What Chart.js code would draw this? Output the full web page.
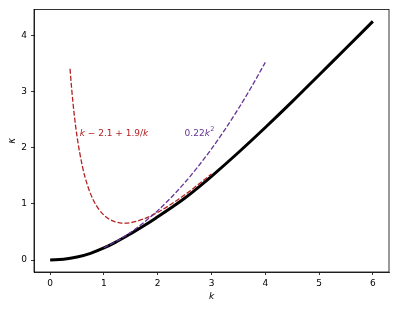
<!DOCTYPE html>
<html>
<head>
<meta charset="utf-8">
<script src="https://cdn.jsdelivr.net/npm/chart.js@4/dist/chart.umd.min.js"></script>
<style>
html,body{margin:0;padding:0;background:#fff;}
#wrap{width:396px;height:309px;}
</style>
</head>
<body>
<div id="wrap"><canvas id="c" width="396" height="309"></canvas></div>
<script>
// Full curve kappa(k)
const kFull = [0, 0.25, 0.5, 0.75, 1, 1.25, 1.5, 1.75, 2, 2.25, 2.5, 2.75, 3, 3.5, 4, 4.5, 5, 5.5, 6];
const kappaFull = [0, 0.013, 0.053, 0.12, 0.215, 0.335, 0.47, 0.615, 0.77, 0.93, 1.1, 1.29, 1.49, 1.915, 2.36, 2.82, 3.295, 3.77, 4.25];
// Large-k asymptote: k - 2.1 + 1.9/k
const kLarge = [0.37, 0.4, 0.45, 0.5, 0.6, 0.7, 0.8, 0.9, 1.0, 1.1, 1.2, 1.3, 1.4, 1.5, 1.6, 1.8, 2.0, 2.2, 2.4, 2.6, 2.8, 3.0];
const kappaLarge = [3.405, 3.05, 2.572, 2.2, 1.667, 1.314, 1.075, 0.911, 0.8, 0.727, 0.683, 0.662, 0.657, 0.667, 0.688, 0.756, 0.85, 0.964, 1.092, 1.231, 1.379, 1.533];
// Small-k asymptote: 0.22 k^2
const kSmall = [1, 1.25, 1.5, 1.75, 2, 2.25, 2.5, 2.75, 3, 3.25, 3.5, 3.75, 4];
const kappaSmall = [0.22, 0.344, 0.495, 0.674, 0.88, 1.114, 1.375, 1.664, 1.98, 2.324, 2.695, 3.094, 3.52];
// Ticks
const xTicks = [0, 1, 2, 3, 4, 5, 6];
const yTicks = [0, 1, 2, 3, 4];
// Annotation labels
const labelLarge = {x: 0.55, y: 2.25, parts: [['k', true], [' \u2212 2.1 + 1.9/', false], ['k', true]], color: '#b22222'};
const labelSmall = {x: 2.5, y: 2.25, parts: [['0.22', false], ['k', true]], sup: '2', color: '#663399'};

const pts = (xs, ys) => xs.map((x, i) => ({x: x, y: ys[i]}));
const FONT = 'DejaVu Sans';

const frame = {
  id: 'frame',
  afterDatasetsDraw(chart) {
    const {ctx, chartArea: a, scales} = chart;
    ctx.save();
    ctx.strokeStyle = '#000';
    ctx.lineWidth = 0.8;
    ctx.strokeRect(a.left, a.top, a.right - a.left, a.bottom - a.top);
    const drawLabel = (lab) => {
      let px = scales.x.getPixelForValue(lab.x);
      const py = scales.y.getPixelForValue(lab.y);
      ctx.fillStyle = lab.color;
      ctx.textBaseline = 'middle';
      ctx.textAlign = 'left';
      for (const [t, it] of lab.parts) {
        ctx.font = (it ? 'italic ' : '') + '9px "' + FONT + '"';
        ctx.fillText(t, px, py);
        px += ctx.measureText(t).width;
      }
      if (lab.sup) {
        ctx.font = '6.5px "' + FONT + '"';
        ctx.fillText(lab.sup, px + 0.5, py - 4);
      }
    };
    drawLabel(labelLarge);
    drawLabel(labelSmall);
    ctx.restore();
  }
};

new Chart(document.getElementById('c'), {
  type: 'scatter',
  data: {
    datasets: [
      {data: pts(kFull, kappaFull), showLine: true, borderColor: '#000', borderWidth: 3, pointRadius: 0, tension: 0.4, order: 3},
      {data: pts(kLarge, kappaLarge), showLine: true, borderColor: '#b22222', borderWidth: 1.3, borderDash: [5, 2], pointRadius: 0, cubicInterpolationMode: 'monotone', order: 2},
      {data: pts(kSmall, kappaSmall), showLine: true, borderColor: '#663399', borderWidth: 1.3, borderDash: [5, 2], pointRadius: 0, cubicInterpolationMode: 'monotone', order: 1}
    ]
  },
  options: {
    responsive: false,
    animation: false,
    layout: {padding: {top: 7, right: 7, left: 0, bottom: 0}},
    plugins: {legend: {display: false}, tooltip: {enabled: false}},
    scales: {
      x: {
        type: 'linear', min: -0.3, max: 6.3,
        afterBuildTicks: s => { s.ticks = xTicks.map(v => ({value: v})); },
        afterFit: s => { s.height = 37; },
        grid: {drawOnChartArea: false, drawTicks: true, tickLength: 3, color: '#000', lineWidth: 0.8},
        border: {display: true, color: '#000', width: 0.8},
        ticks: {color: '#000', padding: 3, font: {family: FONT, size: 9}, maxRotation: 0},
        title: {display: true, text: 'k', color: '#000', font: {family: FONT, size: 9, style: 'italic'}, padding: {top: 0, bottom: 7}}
      },
      y: {
        type: 'linear', min: -0.2125, max: 4.4625,
        afterBuildTicks: s => { s.ticks = yTicks.map(v => ({value: v})); },
        afterFit: s => { s.width = 34; },
        grid: {drawOnChartArea: false, drawTicks: true, tickLength: 3, color: '#000', lineWidth: 0.8},
        border: {display: true, color: '#000', width: 0.8},
        ticks: {color: '#000', padding: 4, font: {family: FONT, size: 9}},
        title: {display: true, text: '\u03ba', color: '#000', font: {family: FONT, size: 10, style: 'italic'}, padding: {top: 6, bottom: 0}}
      }
    }
  },
  plugins: [frame]
});
</script>
</body>
</html>
